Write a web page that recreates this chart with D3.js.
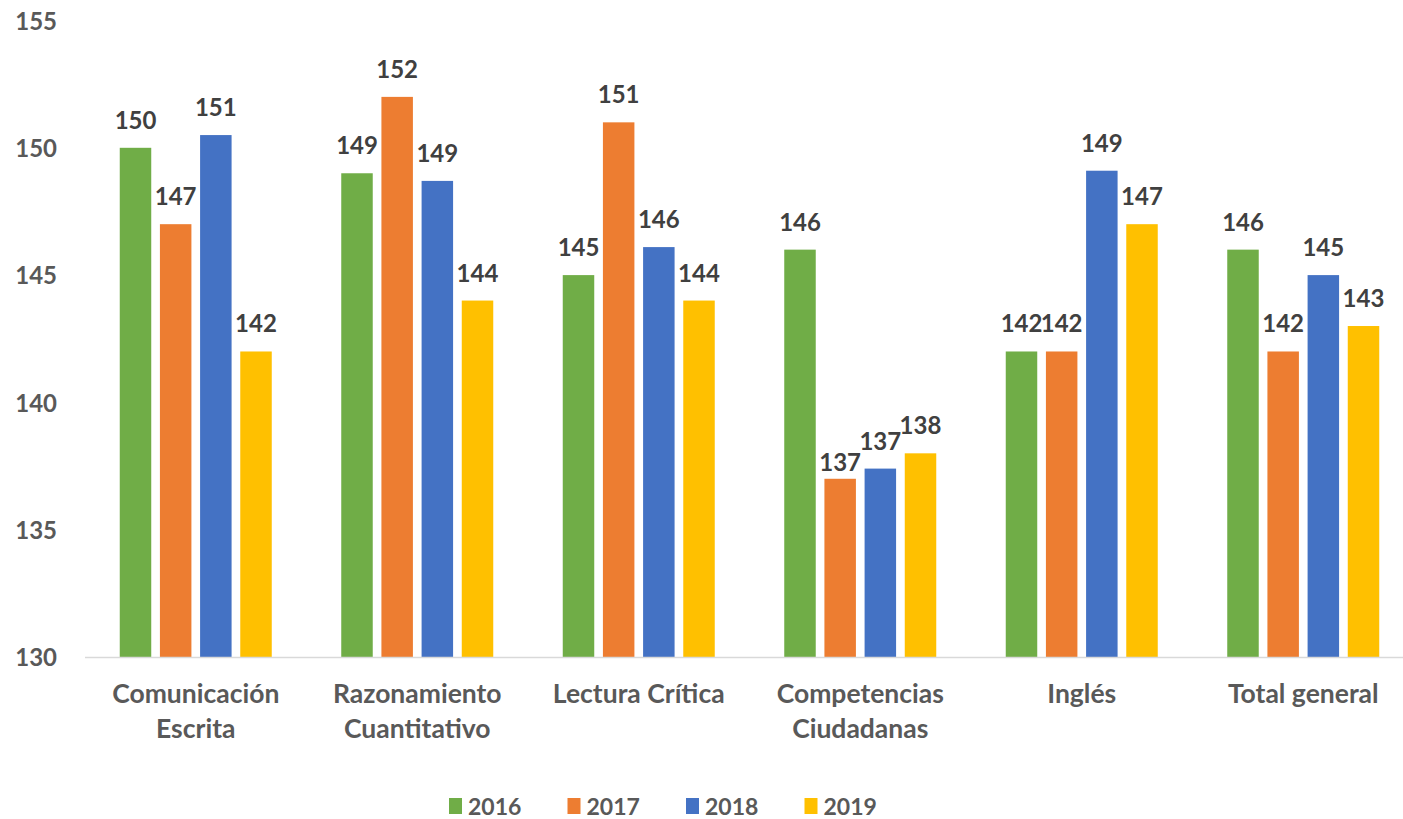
<!DOCTYPE html>
<html>
<head>
<meta charset="utf-8">
<script src="https://cdn.jsdelivr.net/npm/d3@7"></script>
<style>
  body { margin: 0; background: #fff; }
  svg { display: block; font-family: Lato, "Open Sans", sans-serif; font-weight: bold; }
</style>
</head>
<body>
<script>
// datos
var categorias = [["Comunicación", "Escrita"], ["Razonamiento", "Cuantitativo"], ["Lectura Crítica"],
                  ["Competencias", "Ciudadanas"], ["Inglés"], ["Total general"]];
var anios = ["2016", "2017", "2018", "2019"];
var v2016 = [150, 149, 145, 146, 142, 146];
var v2017 = [147, 152, 151, 137, 142, 142];
var v2018 = [150.5, 148.7, 146.1, 137.4, 149.1, 145];
var v2019 = [142, 144, 144, 138, 147, 143];
var ticksY = [130, 135, 140, 145, 150, 155];
var colores = ["#70AD47", "#ED7D31", "#4472C4", "#FFC000"];

var series = [v2016, v2017, v2018, v2019];
var width = 1403, height = 819;
var mTop = 20.5, mBottom = 657, mLeft = 85, mRight = 1414;
var anchoGrupo = 152;

var svg = d3.select("body").append("svg")
    .attr("width", width)
    .attr("height", height);

var x0 = d3.scaleBand()
    .domain(d3.range(categorias.length))
    .range([mLeft, mRight]);
var x1 = d3.scaleBand()
    .domain(anios)
    .range([0, anchoGrupo])
    .paddingInner(0.216);
var y = d3.scaleLinear()
    .domain([130, 155])
    .range([mBottom, mTop]);

// eje y (solo etiquetas)
var yAxis = d3.axisLeft(y).tickValues(ticksY).tickSize(0).tickPadding(0);
var gy = svg.append("g").attr("transform", "translate(57,0)").call(yAxis);
gy.select(".domain").remove();
gy.selectAll("text")
    .attr("fill", "#595959")
    .attr("dy", "0.36em")
    .style("font-size", "24px")
    .style("font-family", "Lato, sans-serif")
    .style("font-weight", "bold");

// barras
var grupos = svg.selectAll("g.grupo").data(categorias).enter()
    .append("g")
    .attr("class", "grupo")
    .attr("transform", function(d, i) {
        return "translate(" + (x0(i) + x0.bandwidth() / 2 - anchoGrupo / 2) + ",0)";
    });

function filas(d, i) {
    return series.map(function(s, j) { return { anio: anios[j], v: s[i], j: j, i: i }; });
}

grupos.selectAll("rect")
    .data(filas)
    .enter()
    .append("rect")
    .attr("x", function(d) { return x1(d.anio); })
    .attr("width", x1.bandwidth())
    .attr("y", function(d) { return y(d.v); })
    .attr("height", function(d) { return mBottom - y(d.v); })
    .attr("fill", function(d) { return colores[d.j]; });

// etiquetas de valor
grupos.selectAll("text.valor")
    .data(filas)
    .enter()
    .append("text")
    .attr("class", "valor")
    .attr("x", function(d) { return x1(d.anio) + x1.bandwidth() / 2; })
    .attr("y", function(d) {
        var dy = (d.i === 3 && d.j === 1) ? -8 : -19; // etiqueta movida a mano en el original
        return y(d.v) + dy;
    })
    .attr("text-anchor", "middle")
    .attr("fill", "#404040")
    .style("font-size", "24px")
    .text(function(d) { return d3.format(".0f")(d.v); });

// eje x
svg.append("line")
    .attr("x1", mLeft).attr("x2", width)
    .attr("y1", mBottom + 0.5).attr("y2", mBottom + 0.5)
    .attr("stroke", "#D9D9D9")
    .attr("stroke-width", 1.5);

svg.selectAll("text.cat").data(categorias).enter()
    .append("text")
    .attr("class", "cat")
    .attr("text-anchor", "middle")
    .attr("fill", "#595959")
    .style("font-size", "26.5px")
    .attr("transform", function(d, i) { return "translate(" + (x0(i) + x0.bandwidth() / 2) + ",703)"; })
    .selectAll("tspan").data(function(d) { return d; }).enter()
    .append("tspan")
    .attr("x", 0)
    .attr("y", function(d, k) { return k * 35; })
    .text(function(d) { return d; });

// leyenda
var leyenda = svg.selectAll("g.ley").data(anios).enter()
    .append("g")
    .attr("class", "ley")
    .attr("transform", function(d, i) { return "translate(" + (449 + i * 118.5) + ",798)"; });
leyenda.append("rect")
    .attr("width", 13).attr("height", 16)
    .attr("fill", function(d, i) { return colores[i]; });
leyenda.append("text")
    .attr("x", 19).attr("y", 17)
    .attr("fill", "#595959")
    .style("font-size", "23px")
    .text(function(d) { return d; });
</script>
</body>
</html>
